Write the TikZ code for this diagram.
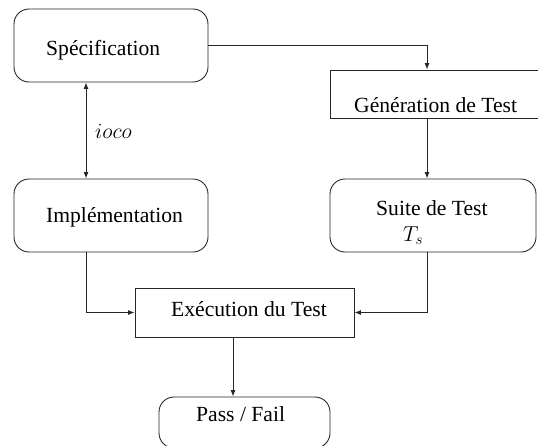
\documentclass[tikz,border=0pt]{standalone}
\usepackage{fix-cm}
\usepackage{fontspec}
\setmainfont{Liberation Serif}
\usetikzlibrary{arrows.meta}
\tikzset{
  box/.style={draw=black!85, line width=0.9pt, rectangle, inner sep=0pt},
  rbox/.style={box, rounded corners=15pt},
  txt/.style={inner sep=0pt, font=\fontsize{21.6}{26}\selectfont},
  conn/.style={draw=black!85, line width=0.9pt, -{Latex[length=6.5pt,width=5pt]}},
  biconn/.style={draw=black!85, line width=0.9pt, {Latex[length=6.5pt,width=5pt]}-{Latex[length=6.5pt,width=5pt]}}
}
\begin{document}
\begin{tikzpicture}[x=1pt,y=-1pt]
\useasboundingbox (0,0) rectangle (538,445);
% boxes
\node[rbox, minimum width=194pt, minimum height=73pt] (spec) at (111,45.5) {};
\node[box, minimum width=215pt, minimum height=48pt] (gen) at (437.5,94) {};
\node[rbox, minimum width=194pt, minimum height=73pt] (impl) at (111,215.5) {};
\node[rbox, minimum width=206pt, minimum height=73pt] (suite) at (433,215.5) {};
\node[box, minimum width=219pt, minimum height=49pt] (exec) at (244.5,312.5) {};
\node[rbox, minimum width=171pt, minimum height=51pt] (pf) at (244.5,422.5) {};
% texts
\node[txt, anchor=base west] (spect) at (46,55) {Spécification};
\node[txt, anchor=base west] (gent) at (354,112) {Génération de Test};
\node[txt, anchor=base west] (implt) at (46,222) {Implémentation};
\node[txt, anchor=base west] (suitet) at (376,215) {Suite de Test};
\node[txt, anchor=base west] (tst) at (403,241) {$T_s$};
\node[txt, anchor=base west] (exect) at (171,316) {Exécution du Test};
\node[txt, anchor=base west] (pft) at (196,421.5) {Pass / Fail};
\node[txt, anchor=base west] (ioco) at (95,138) {$ioco$};
% columns
\coordinate (xa) at (86,0);
\coordinate (xb) at (427,0);
\coordinate (xc) at (233,0);
% connectors
\draw[conn] (spec.east) -| (xb |- gen.north);
\draw[biconn] (xa |- spec.south) -- (xa |- impl.north);
\draw[conn] (xb |- gen.south) -- (xb |- suite.north);
\draw[conn] (xa |- impl.south) |- (exec.west);
\draw[conn] (xb |- suite.south) |- (exec.east);
\draw[conn] (xc |- exec.south) -- (xc |- pf.north);
\end{tikzpicture}
\end{document}
